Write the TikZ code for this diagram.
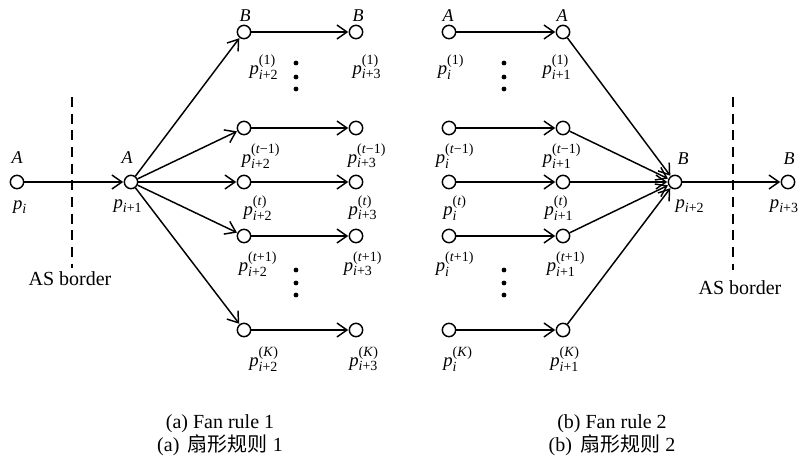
\documentclass[tikz,border=0pt]{standalone}
\usepackage{fontspec}
\setmainfont{Liberation Serif}
\newfontfamily\cjk{Noto Sans CJK SC}
\usetikzlibrary{arrows.meta}
\newcommand{\scr}[1]{\hbox{\fontsize{10.5}{11}\selectfont #1}}
\newcommand{\pl}[2]{$\textit{p}^{\scr{#1}}_{\scr{#2}}$}
\newcommand{\ps}[1]{$\textit{p}_{\scr{#1}}$}
\begin{document}
\begin{tikzpicture}[x=0.75pt,y=-0.75pt,
  vtx/.style={circle,draw,line width=1.1pt,minimum size=10pt,inner sep=0pt,fill=white},
  edge/.style={line width=1.1pt,-{Straight Barb[length=7.5pt,width=10.5pt,line width=1.1pt]},shorten >=0.3pt},
  lbl/.style={font=\fontsize{14}{15}\selectfont,inner sep=0pt},
  ab/.style={font=\fontsize{13.5}{15}\selectfont\itshape,inner sep=0pt},
  border/.style={line width=1.1pt,dash pattern=on 7.5pt off 5pt},
  captext/.style={font=\fontsize{15}{16}\selectfont,inner sep=0pt},
  dot/.style={circle,fill=black,inner sep=0pt,minimum size=3.6pt}]
\useasboundingbox (0,0) rectangle (800,464);
% ---------------- (a) ----------------
\node[vtx] (a0) at (17,182) {};
\node[vtx] (a1) at (131,182) {};
\foreach \n/\y in {r1/32,r2/128,r3/182,r4/236,r5/330}{
  \node[vtx] (aL\n) at (244,\y) {};
  \node[vtx] (aR\n) at (356,\y) {};
}
\draw[edge] (a0) -- (a1);
\foreach \n in {r1,r2,r3,r4,r5}{
  \draw[edge] (a1) -- (aL\n);
  \draw[edge] (aL\n) -- (aR\n);
}
\node[ab] (la0) at (17,158) {A};
\node[ab] (la1) at (127,158) {A};
\node[ab] (laB1) at (245,16) {B};
\node[ab] (laB2) at (358,16) {B};
\node[lbl] (pa0) at (20,207) {\ps{\textit{i}}};
\node[lbl] (pa1) at (128,206) {\ps{\textit{i}+1}};
\node[lbl] (pL1) at (264,67) {\pl{(1)}{\textit{i}+2}};
\node[lbl] (pR1) at (367,67) {\pl{(1)}{\textit{i}+3}};
\node[lbl] (pL2) at (261,156) {\pl{(\textit{t}−1)}{\textit{i}+2}};
\node[lbl] (pR2) at (367,156) {\pl{(\textit{t}−1)}{\textit{i}+3}};
\node[lbl] (pL3) at (258,208) {\pl{(\textit{t})}{\textit{i}+2}};
\node[lbl] (pR3) at (363,208) {\pl{(\textit{t})}{\textit{i}+3}};
\node[lbl] (pL4) at (258,264) {\pl{(\textit{t}+1)}{\textit{i}+2}};
\node[lbl] (pR4) at (363,264) {\pl{(\textit{t}+1)}{\textit{i}+3}};
\node[lbl] (pL5) at (264,359) {\pl{(\textit{K})}{\textit{i}+2}};
\node[lbl] (pR5) at (364,359) {\pl{(\textit{K})}{\textit{i}+3}};
\foreach \y/\k in {63/1,77/2,89/3,270/4,283/5,295/6}{\node[dot] (adot\k) at (296,\y) {};}
\coordinate (bA1) at (72,97);
\coordinate (bA2) at (72,268);
\draw[border] (bA1) -- (bA2);
\node[captext] (asA) at (70,279) {AS border};
\node[captext] (capa1) at (220,424) {(a) Fan rule 1};
\node[captext] (capa2) at (220,445) {(a)\, {\cjk 扇形规则} 1};
% ---------------- (b) ----------------
\foreach \n/\y in {r1/32,r2/128,r3/182,r4/236,r5/330}{
  \node[vtx] (bL\n) at (449,\y) {};
  \node[vtx] (bR\n) at (563,\y) {};
}
\node[vtx] (b2) at (675,182) {};
\node[vtx] (b3) at (788,182) {};
\foreach \n in {r1,r2,r3,r4,r5}{
  \draw[edge] (bL\n) -- (bR\n);
  \draw[edge] (bR\n) -- (b2);
}
\draw[edge] (b2) -- (b3);
\node[ab] (lbA1) at (448,16) {A};
\node[ab] (lbA2) at (562,16) {A};
\node[ab] (lbB1) at (683,159) {B};
\node[ab] (lbB2) at (789,159) {B};
\node[lbl] (qL1) at (451,67) {\pl{(1)}{\textit{i}}};
\node[lbl] (qR1) at (557,67) {\pl{(1)}{\textit{i}+1}};
\node[lbl] (qL2) at (455,156) {\pl{(\textit{t}−1)}{\textit{i}}};
\node[lbl] (qR2) at (562,156) {\pl{(\textit{t}−1)}{\textit{i}+1}};
\node[lbl] (qL3) at (455,208) {\pl{(\textit{t})}{\textit{i}}};
\node[lbl] (qR3) at (559,208) {\pl{(\textit{t})}{\textit{i}+1}};
\node[lbl] (qL4) at (455,264) {\pl{(\textit{t}+1)}{\textit{i}}};
\node[lbl] (qR4) at (566,264) {\pl{(\textit{t}+1)}{\textit{i}+1}};
\node[lbl] (qL5) at (458,359) {\pl{(\textit{K})}{\textit{i}}};
\node[lbl] (qR5) at (565,359) {\pl{(\textit{K})}{\textit{i}+1}};
\node[lbl] (pb2) at (690,206) {\ps{\textit{i}+2}};
\node[lbl,anchor=east] (pb3) at (799,206) {\ps{\textit{i}+3}};
\foreach \y/\k in {63/1,77/2,89/3,270/4,283/5,295/6}{\node[dot] (bdot\k) at (504,\y) {};}
\coordinate (bB1) at (733,97);
\coordinate (bB2) at (733,270);
\draw[border] (bB1) -- (bB2);
\node[captext] (asB) at (740,288) {AS border};
\node[captext] (capb1) at (612,424) {(b) Fan rule 2};
\node[captext] (capb2) at (612,445) {(b)\, {\cjk 扇形规则} 2};
\end{tikzpicture}
\end{document}
